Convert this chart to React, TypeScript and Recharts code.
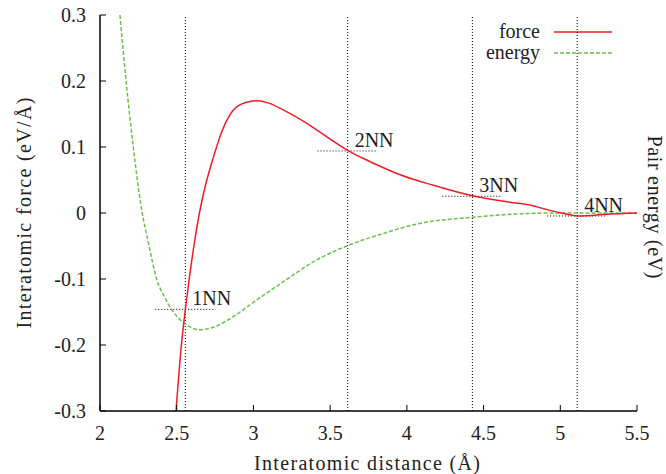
import React from 'react';
import { LineChart, Line, XAxis, YAxis, ReferenceLine, ReferenceDot, Customized } from 'recharts';

// Force curve (eV/Å) vs interatomic distance (Å)
const forceDist = [2.4954, 2.5306, 2.5567, 2.5815, 2.6121, 2.648, 2.688, 2.728, 2.795, 2.869, 2.95, 3.021, 3.1, 3.2, 3.3, 3.4, 3.5, 3.614, 3.7, 3.8, 3.956, 4.173, 4.427, 4.65, 4.803, 4.9, 5.0, 5.13, 5.3, 5.5];
const forceVal = [-0.3, -0.2, -0.1455, -0.1, -0.05, 0.0, 0.0424, 0.0758, 0.124, 0.156, 0.1675, 0.17, 0.1665, 0.1555, 0.1425, 0.128, 0.112, 0.095, 0.0845, 0.0735, 0.058, 0.042, 0.026, 0.017, 0.012, 0.006, 0.0005, -0.0045, -0.002, 0.0];

// Pair energy curve (eV) vs interatomic distance (Å)
const energyDist = [2.13, 2.17, 2.217, 2.268, 2.32, 2.369, 2.42, 2.463, 2.556, 2.652, 2.75, 2.869, 2.978, 3.195, 3.413, 3.614, 3.847, 4.064, 4.427, 4.716, 4.933, 5.2, 5.5];
const energyVal = [0.3, 0.2, 0.1, 0.01, -0.05, -0.1, -0.127, -0.145, -0.168, -0.177, -0.172, -0.157, -0.139, -0.104, -0.071, -0.0495, -0.031, -0.0167, -0.0065, -0.0015, 0.0, 0.0, 0.0];

// Neighbour shells
const nnDist = [2.556, 3.614, 4.427, 5.11];
const nnForce = [-0.146, 0.094, 0.0253, -0.0045];
const nnLabels = ['1NN', '2NN', '3NN', '4NN'];

const xTicks = [2, 2.5, 3, 3.5, 4, 4.5, 5, 5.5];
const yTicks = [-0.3, -0.2, -0.1, 0, 0.1, 0.2, 0.3];

const forceData = forceDist.map((x, i) => ({ x, y: forceVal[i] }));
const energyData = energyDist.map((x, i) => ({ x, y: energyVal[i] }));

const FONT = 'Liberation Serif';
const TXT = '#222';
const RED = '#ee1c25';
const GREEN = '#6cc04a';

const tickStyle = { fontSize: 20, fill: TXT, fontFamily: FONT };

const Overlay = () => (
  <g fontFamily={FONT} fontSize={20} fill={TXT}>
    <text x={367} y={470} textAnchor="middle" textLength={226} lengthAdjust="spacing">Interatomic distance (Å)</text>
    <text x={31} y={213} textAnchor="middle" textLength={231} lengthAdjust="spacing" transform="rotate(-90, 31, 213)">Interatomic force (eV/Å)</text>
    <text x={648} y={207} textAnchor="middle" textLength={143} lengthAdjust="spacing" transform="rotate(90, 648, 207)">Pair energy (eV)</text>
    <text x={540} y={38} textAnchor="end">force</text>
    <line x1={554} x2={612} y1={32} y2={32} stroke={RED} strokeWidth={1.5} />
    <text x={540} y={59} textAnchor="end">energy</text>
    <line x1={554} x2={612} y1={53} y2={53} stroke={GREEN} strokeWidth={1.5} strokeDasharray="4 2" />
  </g>
);

const nnLabel = (text: string) => (props: any) => {
  const vb = props.viewBox || {};
  const cx = (vb.x ?? 0) + (vb.width ?? 0) / 2;
  const cy = (vb.y ?? 0) + (vb.height ?? 0) / 2;
  return (
    <text x={cx + 7} y={cy - 4} fontFamily={FONT} fontSize={20} fill={TXT}>{text}</text>
  );
};

export default function App() {
  return (
    <div style={{ position: 'absolute', left: 0, top: 0 }}>
      <LineChart width={666} height={474} margin={{ top: 15, right: 29, bottom: 0, left: 0 }}>
        <XAxis
          dataKey="x"
          type="number"
          domain={[2, 5.5]}
          ticks={xTicks}
          allowDataOverflow
          height={63}
          tickSize={-6}
          tickMargin={21}
          tick={tickStyle}
          tickLine={{ stroke: '#000' }}
          axisLine={{ stroke: '#000', strokeWidth: 1.5 }}
        />
        <XAxis
          xAxisId="top"
          orientation="top"
          dataKey="x"
          type="number"
          domain={[2, 5.5]}
          ticks={xTicks}
          allowDataOverflow
          height={0}
          tickSize={-6}
          tick={false}
          tickLine={{ stroke: '#000' }}
          axisLine={{ stroke: '#000', strokeWidth: 1.5 }}
        />
        <YAxis
          type="number"
          domain={[-0.3, 0.3]}
          ticks={yTicks}
          allowDataOverflow
          width={100}
          tickSize={-6}
          tickMargin={20}
          tick={tickStyle}
          tickLine={{ stroke: '#000' }}
          axisLine={{ stroke: '#000', strokeWidth: 1.5 }}
        />
        <YAxis
          yAxisId="right"
          orientation="right"
          type="number"
          domain={[-0.3, 0.3]}
          ticks={yTicks}
          allowDataOverflow
          width={0}
          tickSize={-6}
          tick={false}
          tickLine={{ stroke: '#000' }}
          axisLine={{ stroke: '#000', strokeWidth: 1.5 }}
        />
        {nnDist.map((d) => (
          <ReferenceLine key={'v' + d} x={d} stroke="#000" strokeDasharray="1 2" strokeWidth={1} />
        ))}
        {nnDist.map((d, i) => (
          <ReferenceLine
            key={'h' + d}
            segment={[{ x: d - 0.196, y: nnForce[i] }, { x: d + 0.196, y: nnForce[i] }]}
            stroke="#000"
            strokeDasharray="1 2"
            strokeWidth={1}
          />
        ))}
        <Line data={energyData} dataKey="y" type="monotone" stroke={GREEN} strokeWidth={1.5} strokeDasharray="4 2" dot={false} isAnimationActive={false} />
        <Line data={forceData} dataKey="y" type="monotone" stroke={RED} strokeWidth={1.5} dot={false} isAnimationActive={false} />
        {nnDist.map((d, i) => (
          <ReferenceDot key={'l' + d} x={d} y={nnForce[i]} r={1} fill="none" stroke="none" label={nnLabel(nnLabels[i])} />
        ))}
        <Customized component={<Overlay />} />
      </LineChart>
    </div>
  );
}
